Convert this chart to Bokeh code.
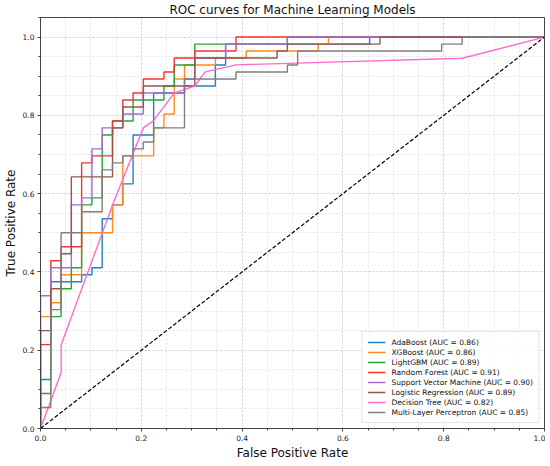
from bokeh.plotting import figure
from bokeh.models import SingleIntervalTicker, Range1d, Legend, LegendItem, PrintfTickFormatter
from bokeh.embed import file_html
from bokeh.resources import INLINE

# ---- data (ROC points) ----
model_names = ["AdaBoost", "XGBoost", "LightGBM", "Random Forest",
               "Support Vector Machine", "Logistic Regression", "Decision Tree",
               "Multi-Layer Perceptron"]
auc_values = [0.86, 0.86, 0.89, 0.91, 0.90, 0.89, 0.82, 0.85]

ada_fpr = [0, 0, 0.0204, 0.0204, 0.0816, 0.0816, 0.102, 0.102, 0.1224, 0.1224, 0.1429, 0.1429,
           0.1633, 0.1633, 0.1837, 0.1837, 0.2245, 0.2245, 0.2857, 0.2857, 0.3469, 0.3469,
           0.3673, 0.3673, 0.6531, 0.6531, 1.0]
ada_tpr = [0, 0.125, 0.125, 0.375, 0.375, 0.3929, 0.3929, 0.4107, 0.4107, 0.5357, 0.5357, 0.5714,
           0.5714, 0.625, 0.625, 0.75, 0.75, 0.8571, 0.8571, 0.875, 0.875, 0.9286, 0.9286,
           0.9821, 0.9821, 1.0, 1.0]

xgb_fpr = [0, 0, 0.0204, 0.0204, 0.0408, 0.0408, 0.0816, 0.0816, 0.1429, 0.1429, 0.1633, 0.1633,
           0.2245, 0.2245, 0.2449, 0.2449, 0.2653, 0.2653, 0.2857, 0.2857, 0.3469, 0.3469,
           0.4082, 0.4082, 0.551, 0.551, 0.5714, 0.5714, 1.0]
xgb_tpr = [0, 0.2857, 0.2857, 0.3214, 0.3214, 0.3929, 0.3929, 0.5, 0.5, 0.5714, 0.5714, 0.6964,
           0.6964, 0.7679, 0.7679, 0.8036, 0.8036, 0.8929, 0.8929, 0.9286, 0.9286, 0.9464,
           0.9464, 0.9643, 0.9643, 0.9821, 0.9821, 1.0, 1.0]

lgbm_fpr = [0, 0, 0.0204, 0.0204, 0.0408, 0.0408, 0.0612, 0.0612, 0.0816, 0.0816, 0.102, 0.102,
            0.1224, 0.1224, 0.1429, 0.1429, 0.1837, 0.1837, 0.2449, 0.2449, 0.2653, 0.2653,
            0.3061, 0.3061, 0.4898, 0.4898, 1.0]
lgbm_tpr = [0, 0.0893, 0.0893, 0.2857, 0.2857, 0.3571, 0.3571, 0.4107, 0.4107, 0.5714, 0.5714,
            0.5893, 0.5893, 0.75, 0.75, 0.7857, 0.7857, 0.8393, 0.8393, 0.875, 0.875, 0.9286,
            0.9286, 0.9821, 0.9821, 1.0, 1.0]

rf_fpr = [0, 0, 0.0204, 0.0204, 0.0408, 0.0408, 0.0816, 0.0816, 0.102, 0.102, 0.1429, 0.1429,
          0.1633, 0.1633, 0.1837, 0.1837, 0.2041, 0.2041, 0.2449, 0.2449, 0.2653, 0.2653,
          0.3061, 0.3061, 0.3878, 0.3878, 1.0]
rf_tpr = [0, 0.2143, 0.2143, 0.4286, 0.4286, 0.4643, 0.4643, 0.6786, 0.6786, 0.6964, 0.6964,
          0.7857, 0.7857, 0.8393, 0.8393, 0.8571, 0.8571, 0.8929, 0.8929, 0.9107, 0.9107,
          0.9464, 0.9464, 0.9643, 0.9643, 1.0, 1.0]

svm_fpr = [0, 0, 0.0204, 0.0204, 0.0612, 0.0612, 0.0816, 0.0816, 0.102, 0.102, 0.1224, 0.1224,
           0.1633, 0.1633, 0.2041, 0.2041, 0.2857, 0.2857, 0.3061, 0.3061, 0.3673, 0.3673,
           0.4898, 0.4898, 1.0]
svm_tpr = [0, 0.3393, 0.3393, 0.4107, 0.4107, 0.5714, 0.5714, 0.5893, 0.5893, 0.7143, 0.7143,
           0.7679, 0.7679, 0.8036, 0.8036, 0.8571, 0.8571, 0.8929, 0.8929, 0.9464, 0.9464,
           0.9821, 0.9821, 1.0, 1.0]

lr_fpr = [0, 0, 0.0204, 0.0204, 0.0408, 0.0408, 0.0612, 0.0612, 0.1429, 0.1429, 0.1633, 0.1633,
          0.2041, 0.2041, 0.3061, 0.3061, 0.4694, 0.4694, 0.4898, 0.4898, 0.6735, 0.6735, 1.0]
lr_tpr = [0, 0.25, 0.25, 0.3571, 0.3571, 0.4464, 0.4464, 0.6429, 0.6429, 0.7679, 0.7679, 0.8214,
          0.8214, 0.875, 0.875, 0.9464, 0.9464, 0.9643, 0.9643, 0.9821, 0.9821, 1.0, 1.0]

dt_fpr = [0, 0.041, 0.041, 0.143, 0.204, 0.224, 0.265, 0.306, 0.327, 0.388, 0.837, 1.0]
dt_tpr = [0, 0.143, 0.214, 0.571, 0.768, 0.786, 0.857, 0.875, 0.911, 0.929, 0.946, 1.0]

mlp_fpr = [0, 0, 0.0204, 0.0204, 0.0408, 0.0408, 0.0816, 0.0816, 0.1224, 0.1224, 0.1429, 0.1429,
           0.1633, 0.1633, 0.1837, 0.1837, 0.2041, 0.2041, 0.2245, 0.2245, 0.2857, 0.2857,
           0.3878, 0.3878, 0.4898, 0.4898, 0.5102, 0.5102, 0.7959, 0.7959, 0.8367, 0.8367, 1.0]
mlp_tpr = [0, 0.0536, 0.0536, 0.3036, 0.3036, 0.5, 0.5, 0.5536, 0.5536, 0.6607, 0.6607, 0.6786,
           0.6786, 0.6964, 0.6964, 0.7143, 0.7143, 0.7321, 0.7321, 0.7679, 0.7679, 0.8929,
           0.8929, 0.9107, 0.9107, 0.9286, 0.9286, 0.9643, 0.9643, 0.9821, 0.9821, 1.0, 1.0]

chance_x = [0, 1]
chance_y = [0, 1]

all_fpr = [ada_fpr, xgb_fpr, lgbm_fpr, rf_fpr, svm_fpr, lr_fpr, dt_fpr, mlp_fpr]
all_tpr = [ada_tpr, xgb_tpr, lgbm_tpr, rf_tpr, svm_tpr, lr_tpr, dt_tpr, mlp_tpr]
colors = ["#1f82c4", "#ff8c1a", "#21a832", "#f23333", "#a56bd6", "#94574d", "#ff6ccb", "#7f7f7f"]

FONT = "DejaVu Sans"

p = figure(width=545, height=462, output_backend="svg", toolbar_location=None,
           x_range=Range1d(0, 1), y_range=Range1d(0, 1.05),
           title="ROC curves for Machine Learning Models",
           min_border_left=30, min_border_right=1, min_border_top=0, min_border_bottom=1)

p.title.align = "center"
p.title.text_font = FONT
p.title.text_font_size = "12px"
p.title.text_font_style = "normal"
p.title.text_color = "#111111"
p.title.standoff = 1

for ax, lab in ((p.xaxis, "False Positive Rate"), (p.yaxis, "True Positive Rate")):
    ax.ticker = SingleIntervalTicker(interval=0.2, num_minor_ticks=4)
    ax.formatter = PrintfTickFormatter(format="%.1f")
    ax.axis_label = lab
    ax.axis_label_text_font = FONT
    ax.axis_label_text_font_size = "12px"
    ax.axis_label_text_font_style = "normal"
    ax.axis_label_text_color = "#111111"
    ax.axis_label_standoff = 2
    ax.major_label_text_font = FONT
    ax.major_label_text_font_size = "7.5px"
    ax.major_label_text_color = "#222222"
    ax.major_label_standoff = 3
    ax.major_tick_out = 3
    ax.major_tick_in = 0
    ax.minor_tick_out = 2
    ax.minor_tick_in = 0
    ax.axis_line_color = "#444444"
    ax.major_tick_line_color = "#444444"
    ax.minor_tick_line_color = "#444444"

p.outline_line_color = "#444444"
p.outline_line_width = 1

for g in (p.xgrid, p.ygrid):
    g.grid_line_color = "#cfcfcf"
    g.grid_line_dash = "2 2"
    g.grid_line_alpha = 0.8
    g.minor_grid_line_color = "#dcdcdc"
    g.minor_grid_line_dash = "2 2"
    g.minor_grid_line_alpha = 0.8

items = []
for name, auc, fx, ty, c in zip(model_names, auc_values, all_fpr, all_tpr, colors):
    r = p.line(fx, ty, line_color=c, line_width=1.4)
    items.append(LegendItem(label=f"{name} (AUC = {auc:.2f})", renderers=[r]))

p.line(chance_x, chance_y, line_color="black", line_width=1.2, line_dash="4 2")

legend = Legend(items=items, location="bottom_right")
legend.label_text_font = FONT
legend.label_text_font_size = "7.5px"
legend.label_text_color = "#111111"
legend.glyph_width = 18
legend.glyph_height = 10
legend.label_height = 10
legend.label_standoff = 6
legend.spacing = 0
legend.padding = 5
legend.margin = 5
legend.border_line_color = "#cccccc"
legend.border_line_width = 1
legend.background_fill_alpha = 0.85
p.add_layout(legend)

open("out.html", "w").write(file_html(p, INLINE))
